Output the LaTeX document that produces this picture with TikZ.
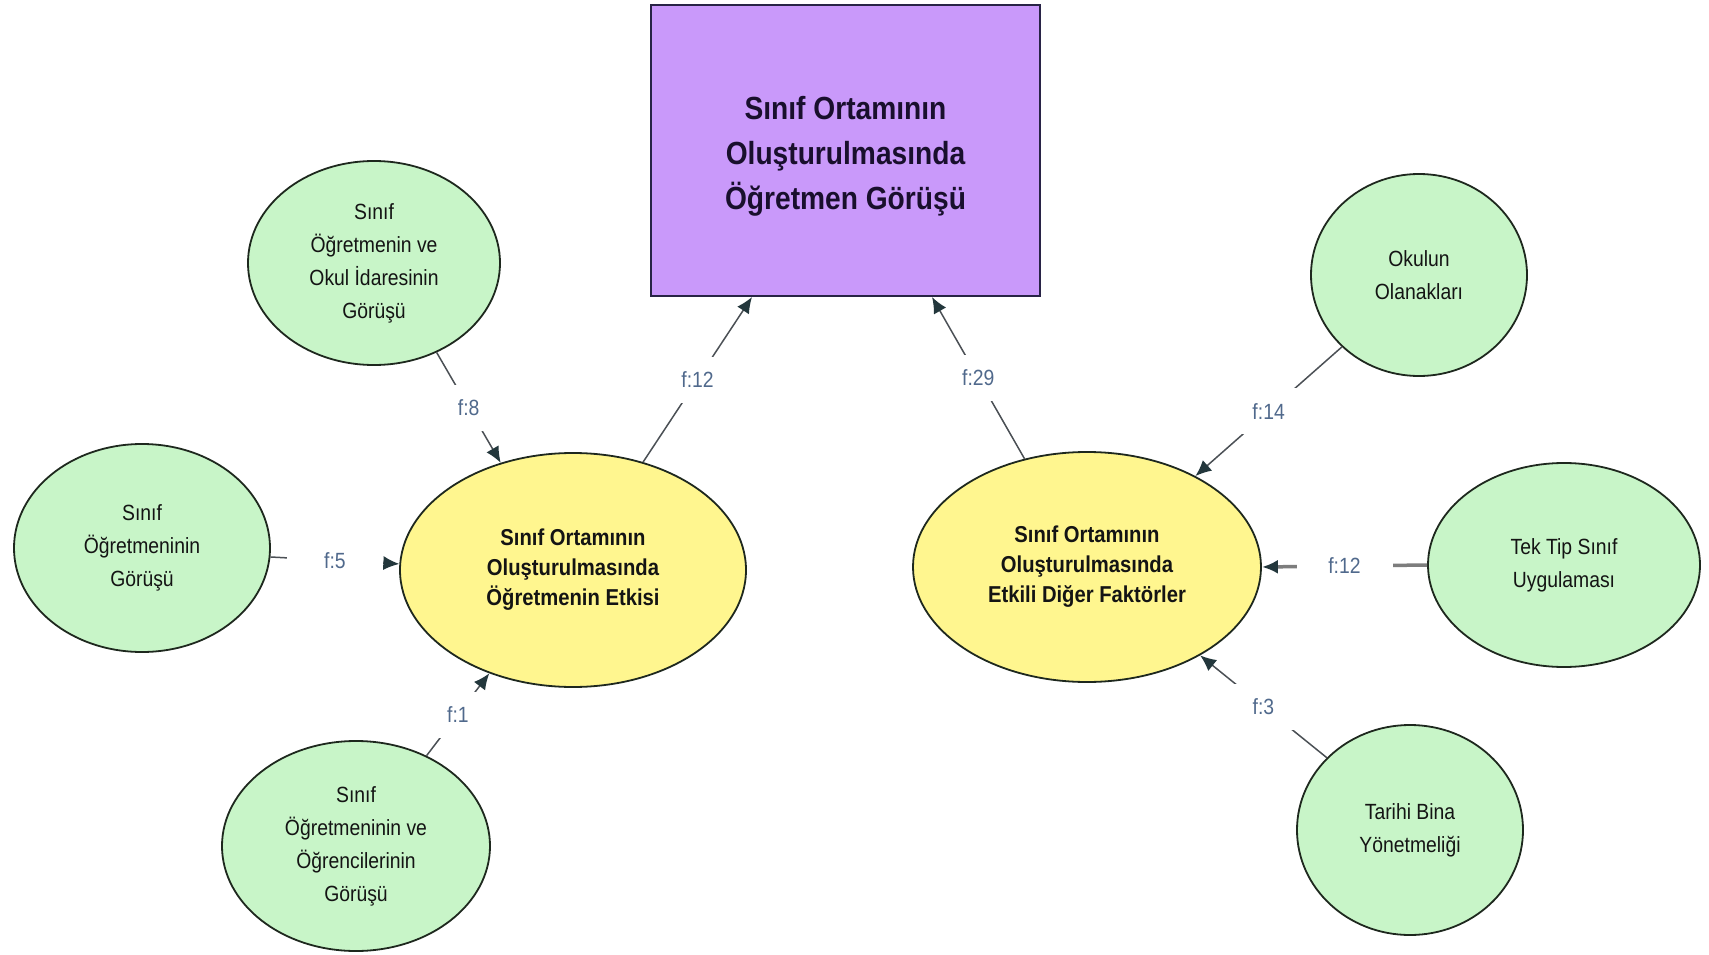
\documentclass[tikz,border=0pt]{standalone}
\usepackage{fontspec}
\setmainfont{Liberation Sans}
\newfontfamily\nrw[FakeStretch=0.88]{Liberation Sans}
\usetikzlibrary{shapes.geometric,arrows.meta}
\definecolor{boxfill}{RGB}{201,153,250}
\definecolor{boxline}{RGB}{40,35,70}
\definecolor{boxtxt}{RGB}{25,15,45}
\definecolor{yelfill}{RGB}{255,246,143}
\definecolor{grnfill}{RGB}{200,245,200}
\definecolor{ellline}{RGB}{30,40,30}
\definecolor{lineclr}{RGB}{75,80,85}
\definecolor{arrowclr}{RGB}{35,55,60}
\definecolor{lblclr}{RGB}{80,105,140}
\definecolor{txt}{RGB}{20,20,20}
\definecolor{thickclr}{RGB}{125,125,125}
\begin{document}
\begin{tikzpicture}[x=1pt,y=-1pt,
  grn/.style={ellipse,draw=ellline,line width=1.8pt,fill=grnfill,inner sep=0pt,align=center,text=txt,
    font=\nrw\fontsize{22}{33}\selectfont},
  yel/.style={ellipse,draw=ellline,line width=1.8pt,fill=yelfill,inner sep=0pt,align=center,text=txt,
    font=\nrw\bfseries\fontsize{23}{30}\selectfont},
  conn/.style={draw=lineclr,line width=1.5pt,-{Latex[length=16pt,width=14pt,color=arrowclr]}},
  thickconn/.style={draw=thickclr,line width=3.5pt,-{Latex[length=16pt,width=14pt,color=arrowclr]}},
  lbl/.style={fill=white,minimum width=96pt,minimum height=46pt,inner sep=0pt,text=lblclr,
    font=\nrw\fontsize{22}{22}\selectfont}]
\useasboundingbox[fill=white] (0,0) rectangle (1709,955);

% central box
\node[draw=boxline,line width=2pt,fill=boxfill,minimum width=389pt,minimum height=291pt,inner sep=0pt] (box) at (845.5,150.5) {};
\node[align=center,text=boxtxt,inner sep=0pt,font=\nrw\bfseries\fontsize{32}{45}\selectfont] (boxtext)
  at ([yshift=-6pt]box.center) {Sınıf Ortamının\\Oluşturulmasında\\Öğretmen Görüşü};

% yellow ellipses
\node[yel,minimum width=346pt,minimum height=234pt] (yl) at (573,570)
  {Sınıf Ortamının\\Oluşturulmasında\\Öğretmenin Etkisi};
\node[yel,minimum width=348pt,minimum height=230pt] (yr) at (1087,567)
  {Sınıf Ortamının\\Oluşturulmasında\\Etkili Diğer Faktörler};

% green ellipses
\node[grn,minimum width=252pt,minimum height=204pt] (g1) at (374,263)
  {Sınıf\\Öğretmenin ve\\Okul İdaresinin\\Görüşü};
\node[grn,minimum width=256pt,minimum height=208pt] (g2) at (142,548)
  {Sınıf\\Öğretmeninin\\Görüşü};
\node[grn,minimum width=268pt,minimum height=210pt] (g3) at (356,846)
  {Sınıf\\Öğretmeninin ve\\Öğrencilerinin\\Görüşü};
\node[grn,minimum width=216pt,minimum height=202pt] (g4) at (1419,275)
  {Okulun\\Olanakları};
\node[grn,minimum width=272pt,minimum height=204pt] (g5) at (1564,565)
  {Tek Tip Sınıf\\Uygulaması};
\node[grn,minimum width=226pt,minimum height=210pt] (g6) at (1410,830)
  {Tarihi Bina\\Yönetmeliği};

% connectors
\draw[conn] (g1.-55) -- node[lbl]{f:8} (yl.124);
\draw[conn] (g2.-4) -- node[lbl]{f:5} (yl.178);
\draw[conn] (g3.52) -- node[lbl]{f:1} (yl.-129);
\draw[conn] (yl.57) -- node[lbl]{f:12} ([xshift=-93.5pt]box.south);
\draw[conn] (yr.120) -- node[lbl]{f:29} ([xshift=86.5pt]box.south);
\draw[conn] (g4.-137) -- node[lbl]{f:14} (yr.40);
\draw[thickconn] (g5.180) -- node[lbl]{f:12} (yr.0);
\draw[conn] (g6.139) -- node[lbl]{f:3} (yr.-38);
\end{tikzpicture}
\end{document}
